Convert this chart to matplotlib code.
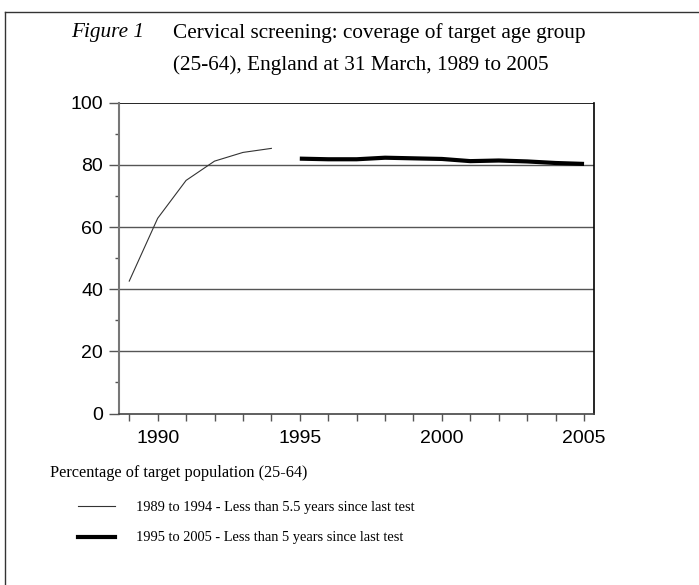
import matplotlib
matplotlib.use("Agg")
import matplotlib.pyplot as plt
from matplotlib.lines import Line2D

# coverage, % of target population aged 25-64
years_old = [1989, 1990, 1991, 1992, 1993, 1994]
cover_old = [42.6, 62.8, 75.0, 81.2, 84.0, 85.3]
years_new = [1995, 1996, 1997, 1998, 1999, 2000, 2001, 2002, 2003, 2004, 2005]
cover_new = [82.0, 81.8, 81.8, 82.3, 82.1, 81.9, 81.2, 81.4, 81.1, 80.6, 80.3]

label_old = "1989 to 1994 - Less than 5.5 years since last test"
label_new = "1995 to 2005 - Less than 5 years since last test"

serif = "Liberation Serif"
sans = "Liberation Sans"

fig = plt.figure(figsize=(6.99, 5.85), dpi=100)
W, H = 699, 585

# outer frame (top and left edges only)
fig.add_artist(Line2D([5 / W, 5 / W], [0, 1 - 12 / H], color="#333333", lw=1.0))
fig.add_artist(Line2D([5 / W, 1], [1 - 12 / H, 1 - 12 / H], color="#333333", lw=1.0))

ax = fig.add_axes([119 / W, 1 - 413.5 / H, 475 / W, 310.8 / H])

ax.plot(years_old, cover_old, color="#333333", lw=0.8)
ax.plot(years_new, cover_new, color="black", lw=3.0, solid_capstyle="butt")

ax.set_xlim(1988.64, 2005.35)
ax.set_ylim(0, 100)

ax.set_xticks(range(1990, 2006, 5))
ax.set_xticks(range(1989, 2006), minor=True)
ax.set_yticks(range(0, 101, 20))
ax.set_yticks(range(10, 100, 20), minor=True)

for y in [20, 40, 60, 80]:
    ax.axhline(y, color="#555555", lw=1.0, zorder=0)
ax.axhline(100, color="black", lw=1.2)

ax.spines["top"].set_visible(False)
ax.spines["right"].set_color("black")
ax.spines["right"].set_linewidth(1.2)
ax.spines["bottom"].set_color("#444444")
ax.spines["bottom"].set_linewidth(1.2)
ax.spines["left"].set_color("#777777")
ax.spines["left"].set_linewidth(1.5)

ax.tick_params(axis="x", which="both", direction="out", length=5, width=1,
               color="#555555", labelsize=14, pad=7)
ax.tick_params(axis="y", which="major", direction="out", length=7, width=1,
               color="#555555", labelsize=14, pad=4.5)
ax.tick_params(axis="y", which="minor", direction="out", length=3, width=1,
               color="#555555")
for lab in ax.get_xticklabels() + ax.get_yticklabels():
    lab.set_fontfamily(sans)

# title
fig.text(144 / W, 1 - 33 / H, "Figure 1", family=serif, style="italic",
         fontsize=15.3, va="center", ha="right")
fig.text(173 / W, 1 - 33 / H, "Cervical screening: coverage of target age group",
         family=serif, fontsize=15.3, va="center", ha="left")
fig.text(173 / W, 1 - 65 / H, "(25-64), England at 31 March, 1989 to 2005",
         family=serif, fontsize=15.3, va="center", ha="left")

fig.text(50 / W, 1 - 473 / H, "Percentage of target population (25-64)",
         family=serif, fontsize=11.7, va="center", ha="left")

# legend
fig.add_artist(Line2D([78 / W, 115 / W], [1 - 506 / H] * 2, color="#333333", lw=0.8))
fig.add_artist(Line2D([78 / W, 115 / W], [1 - 537 / H] * 2, color="black", lw=3.0))
fig.text(136 / W, 1 - 507 / H, label_old, family=serif, fontsize=10.4,
         va="center", ha="left")
fig.text(136 / W, 1 - 537 / H, label_new, family=serif, fontsize=10.4,
         va="center", ha="left")

fig.savefig("out.png", dpi=100)
